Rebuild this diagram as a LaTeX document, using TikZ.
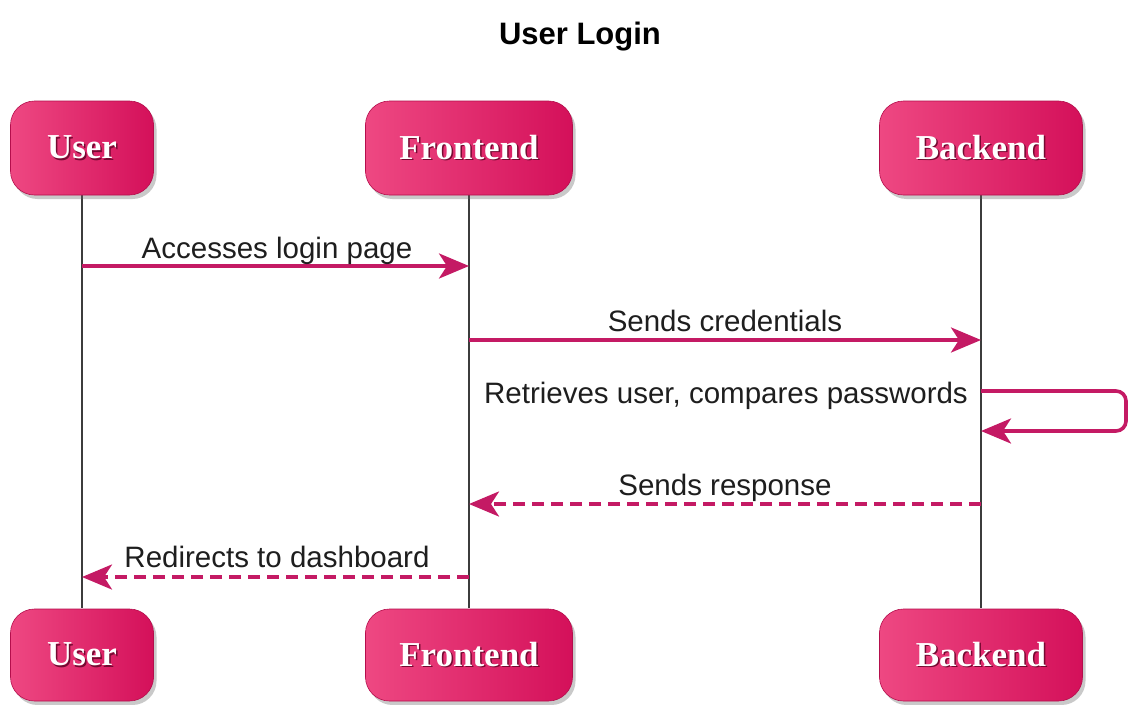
\documentclass[tikz,border=0pt]{standalone}
\usepackage{fontspec}
\setmainfont{Liberation Sans}
\newfontfamily\boxfont{Liberation Serif}
\usetikzlibrary{arrows.meta,shadows}
\definecolor{msgpink}{RGB}{196,26,100}
\definecolor{boxlight}{RGB}{238,72,130}
\definecolor{boxdark}{RGB}{212,16,90}
\definecolor{lifegray}{RGB}{60,60,60}
\definecolor{txtdark}{RGB}{30,30,30}
\newcommand{\shadowtext}[1]{\makebox[0pt][l]{\raisebox{-1.5pt}{\hspace{1.5pt}\color{boxdark!55!black}#1}}#1}
\tikzset{
  actor/.style={rounded corners=24pt, minimum height=94pt, inner sep=0pt,
    left color=boxlight, right color=boxdark, draw=boxdark!85!black, line width=0.6pt,
    drop shadow={shadow xshift=3pt, shadow yshift=-4pt, opacity=0.35, fill=black!60},
    text=white, font=\boxfont\bfseries\fontsize{35}{40}\selectfont},
  lifeline/.style={draw=lifegray, line width=1.5pt},
  msg/.style={draw=msgpink, line width=3.6pt, -{Stealth[length=30pt,width=25pt,inset=8pt]}},
  reply/.style={msg, dash pattern=on 12pt off 7pt},
  msglabel/.style={anchor=base, text=txtdark, font=\fontsize{29.5}{34}\selectfont, inner sep=0pt},
}
\begin{document}
\begin{tikzpicture}[x=1pt, y=-1pt]
\useasboundingbox (0,0) rectangle (1129,704);
\fill[white] (0,0) rectangle (1129,704);

% title
\node[anchor=base, font=\bfseries\fontsize{31}{36}\selectfont, text=black] (title) at (580,44) {User Login};

% lifelines (drawn first, boxes cover the ends)
\coordinate (uT) at (82,195);  \coordinate (uB) at (82,608);
\coordinate (fT) at (469,195); \coordinate (fB) at (469,608);
\coordinate (bT) at (981,195); \coordinate (bB) at (981,608);
\draw[lifeline] (uT) -- (uB);
\draw[lifeline] (fT) -- (fB);
\draw[lifeline] (bT) -- (bB);

% participant boxes
\node[actor, minimum width=143pt] (userTop) at (82,148) {\shadowtext{User}};
\node[actor, minimum width=207pt] (frontTop) at (469,148) {\shadowtext{Frontend}};
\node[actor, minimum width=203pt] (backTop) at (981,148) {\shadowtext{Backend}};
\node[actor, minimum width=143pt, minimum height=92pt] (userBot) at (82,655) {\shadowtext{User}};
\node[actor, minimum width=207pt, minimum height=92pt] (frontBot) at (469,655) {\shadowtext{Frontend}};
\node[actor, minimum width=203pt, minimum height=92pt] (backBot) at (981,655) {\shadowtext{Backend}};

% message anchors on the lifelines
\coordinate (m1s) at (82,266);   \coordinate (m1e) at (469,266);
\coordinate (m2s) at (469,340);  \coordinate (m2e) at (981,340);
\coordinate (m3s) at (981,391);  \coordinate (m3e) at (981,431);
\coordinate (m3r) at (1126,391);
\coordinate (m4s) at (981,504);  \coordinate (m4e) at (469,504);
\coordinate (m5s) at (469,577);  \coordinate (m5e) at (82,577);

% messages
\draw[msg] (m1s) -- (m1e);
\node[msglabel] (l1) at (277,258) {Accesses login page};

\draw[msg] (m2s) -- (m2e);
\node[msglabel] (l2) at (725,331) {Sends credentials};

\draw[msg, rounded corners=10pt] (m3s) -- (m3r) |- (m3e);
\node[msglabel, anchor=base east] (l3) at (968,403) {Retrieves user, compares passwords};

\draw[reply] (m4s) -- (m4e);
\node[msglabel] (l4) at (725,495) {Sends response};

\draw[reply] (m5s) -- (m5e);
\node[msglabel] (l5) at (277,567) {Redirects to dashboard};
\end{tikzpicture}
\end{document}
